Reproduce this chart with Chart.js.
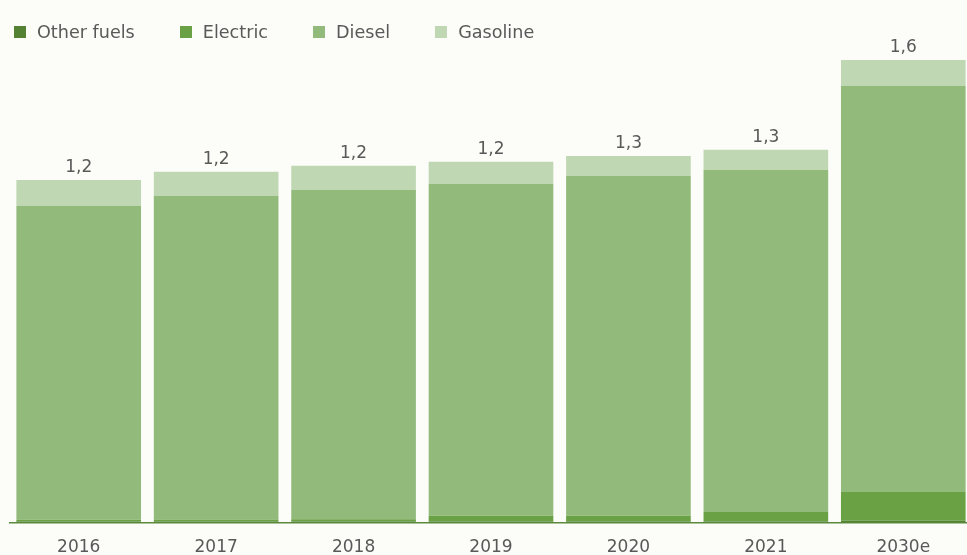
<!DOCTYPE html>
<html lang="en">
<head>
    <meta charset="UTF-8">
    <title>Fuel mix</title>
    <script src="https://cdn.jsdelivr.net/npm/chart.js"></script>
    <style>
        html, body {
            margin: 0;
            padding: 0;
            background: #fcfdf8;
            overflow: hidden;
        }
        .wrap {
            position: relative;
            width: 972px;
            height: 573px;
        }
        .legend {
            position: absolute;
            left: 14px;
            top: 22px;
            display: flex;
            align-items: center;
            font-family: "DejaVu Sans", sans-serif;
            font-size: 17.6px;
            color: #595959;
            z-index: 2;
        }
        .legend span.item {
            display: flex;
            align-items: center;
            margin-right: 45px;
        }
        .legend i {
            display: inline-block;
            width: 12px;
            height: 12px;
            margin-right: 11px;
        }
    </style>
</head>
<body>
    <div class="wrap">
        <div class="legend" id="legend"></div>
        <canvas id="fuelChart"></canvas>
    </div>

    <script>
        // values in the chart's own units
        const years = ['2016', '2017', '2018', '2019', '2020', '2021', '2030e'];
        const otherFuels = [0.004, 0.004, 0.004, 0.004, 0.004, 0.004, 0.006];
        const electric = [0.006, 0.007, 0.008, 0.020, 0.020, 0.033, 0.100];
        const diesel = [1.085, 1.119, 1.139, 1.148, 1.175, 1.183, 1.404];
        const gasoline = [0.090, 0.083, 0.083, 0.076, 0.069, 0.069, 0.090];

        const seriesNames = ['Other fuels', 'Electric', 'Diesel', 'Gasoline'];
        const seriesColors = ['#548235', '#69a144', '#92bb7b', '#c0d7b3'];
        const seriesData = [otherFuels, electric, diesel, gasoline];

        const totals = years.map((y, i) => seriesData.reduce((s, arr) => s + arr[i], 0));

        // html legend
        const legendEl = document.getElementById('legend');
        seriesNames.forEach((name, i) => {
            const item = document.createElement('span');
            item.className = 'item';
            item.innerHTML = '<i style="background:' + seriesColors[i] + '"></i>' + name;
            legendEl.appendChild(item);
        });

        // total label on top of each stack
        const totalLabels = {
            id: 'totalLabels',
            afterDatasetsDraw(chart) {
                const ctx = chart.ctx;
                const topMeta = chart.getDatasetMeta(chart.data.datasets.length - 1);
                ctx.save();
                ctx.font = '17px "DejaVu Sans", sans-serif';
                ctx.fillStyle = '#595959';
                ctx.textAlign = 'center';
                ctx.textBaseline = 'alphabetic';
                topMeta.data.forEach((bar, i) => {
                    const txt = totals[i].toFixed(1).replace('.', ',');
                    ctx.fillText(txt, bar.x, bar.y - 8);
                });
                ctx.restore();
            }
        };

        const ctx = document.getElementById('fuelChart').getContext('2d');
        const fuelChart = new Chart(ctx, {
            type: 'bar',
            data: {
                labels: years,
                datasets: seriesNames.map((name, i) => ({
                    label: name,
                    data: seriesData[i],
                    backgroundColor: seriesColors[i],
                    borderWidth: 0,
                    barPercentage: 0.907,
                    categoryPercentage: 1
                }))
            },
            options: {
                responsive: true,
                maintainAspectRatio: false,
                animation: false,
                layout: {
                    padding: { top: 31, left: 10, right: 0, bottom: 0 }
                },
                plugins: {
                    legend: { display: false },
                    tooltip: { enabled: false }
                },
                scales: {
                    x: {
                        stacked: true,
                        grid: { display: false, drawTicks: false },
                        border: { display: true, color: '#5b8a3d', width: 1.5 },
                        ticks: {
                            color: '#595959',
                            padding: 15,
                            font: { family: '"DejaVu Sans", sans-serif', size: 17 }
                        }
                    },
                    y: {
                        stacked: true,
                        display: false,
                        min: 0,
                        max: 1.7
                    }
                }
            },
            plugins: [totalLabels]
        });
    </script>
</body>
</html>
